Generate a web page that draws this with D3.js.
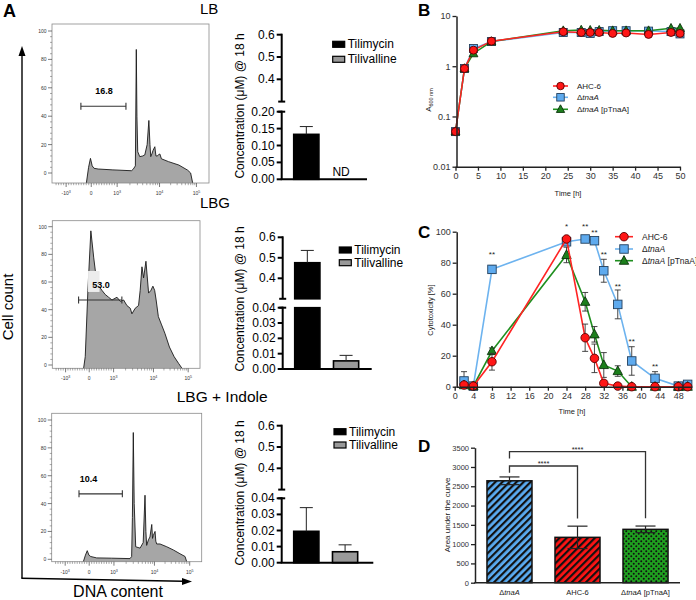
<!DOCTYPE html>
<html>
<head>
<meta charset="utf-8">
<script src="https://cdn.jsdelivr.net/npm/d3@7/dist/d3.min.js"></script>
<style>
html,body{margin:0;padding:0;background:#fff;}
svg{display:block;font-family:"Liberation Sans",Arial,Helvetica,sans-serif;}
</style>
</head>
<body>
<svg id="fig" width="696" height="600"></svg>
<script>
// ======================= DATA =======================
// Panel A – DNA content histograms (channel 0–1000, count as % of max)
const histLB_channel = [219,233,245,256,268,294,388,506,517,531,537,541,546,559,578,591,606,617,624,629,638,644,655,662,670,678,687,697,742,808,864,883,896];
const histLB_count   = [-10,4,10.3,5,3.3,2.8,2.2,1.6,2.6,5,87,40,15,11.5,12,12.7,20,37,20,11.5,14,16,18.5,12,12,12.8,13.4,10,8,5.6,2,0,-10];
const histLBG_channel = [212,223,241,261,280,302,336,358,381,404,438,460,483,505,528,539,561,584,595,607,618,634,652,668,681,693,703,718,740,762,793,825,856,878];
const histLBG_count   = [-10,6,54,97,78,59,54,51,49,47,49,46,47,43,41,37,41,43,54,71,63,75,52,54,57,54,47,35,29,23,13,6,1,-10];
const histInd_channel = [211,225,237,248,260,300,400,522,533,538,544,550,560,589,610,622,628,633,645,655,667,672,677,689,694,700,722,767,811,855,889,900];
const histInd_count   = [-10,3,6.2,3,2,1,0.8,0.5,2,30,91,40,9,8,12,46,20,10,14,16,25,15,17,20,13,11,11,9,6.7,4,2,-10];
const histTitles = ["LB","LBG","LBG + Indole"];
const histGateLabels = ["16.8","53.0","10.4"];
const histGateFrom = [184,178,182];
const histGateTo = [471,471,471];
const histGateCount = 47;
const histYTicks = [0,20,40,60,80,100];
const histXTickChannels = [90,250,415,685,920];
const histXTickBase = ["-10","0","10","10","10"];
const histXTickExp  = ["3","","3","4","5"];

// Panel A – concentrations (µM) at 18 h
const concCompounds = ["Tilimycin","Tilivalline"];
const concLB     = [0.133, null];   const concErrLB  = [0.023, null];
const concLBG    = [0.476, 0.0053]; const concErrLBG = [0.060, 0.0036];
const concInd    = [0.0195, 0.0068];const concErrInd = [0.0147, 0.0043];
const concUpperTicks = [0.4, 0.5, 0.6];
const concLowerTicksLB  = [0, 0.05, 0.10, 0.15, 0.20];
const concLowerTicksLBG = [0, 0.01, 0.02, 0.03, 0.04];

// Panel B – growth (A600nm)
const strains = ["AHC-6","ΔtnaA","ΔtnaA [pTnaA]"];
const timesB  = [0,2,4,8,24,28,30,32,35,38,43,48,50];
const odAHC   = [0.05,0.9,2.09,3.16,4.86,4.7,4.7,4.7,4.5,4.6,4.3,4.7,4.5];
const odTnaA  = [0.05,0.9,2.25,3.1,4.7,4.7,4.5,4.9,5.1,5.1,5.0,4.9,4.4];
const odComp  = [0.05,0.9,1.8,3.1,5.1,5.25,5.2,5.2,5.1,5.1,5.1,5.7,5.7];
const ticksBx = [0,5,10,15,20,25,30,35,40,45,50];
const ticksBy = [0.01,0.1,1,10];

// Panel C – cytotoxicity (%)
const timesC   = [2,4,8,24,28,30,32,35,38,43,48,50];
const cytAHC   = [1.1,0.4,16.1,95.3,31.6,18.3,2.2,0.4,0,0,0,0];
const cytErrAHC= [1,0.5,5.4,1.5,8.8,9.2,1,0.4,0,0,0,0];
const cytTnaA  = [3.7,0.4,75.7,93.5,95.3,94.2,74.8,53.1,16.6,5.4,0.4,1.5];
const cytErrTnaA=[6,0.5,2.5,2,1.5,2,7.4,9.3,9.2,4.3,0.5,1];
const cytComp  = [1,0.4,23,85,54.8,33.8,14,10.1,0,0,0,0];
const cytErrComp=[1,0.5,2,5,6,5,8,3.4,0,0,0,0];
const starTimesC  = [8,24,28,30,32,35,38,43];
const starLabelsC = ["**","*","**","**","**","**","**","**"];
const starLevelsC = [86.5,105,105,101,86.5,66.3,30.6,14.5];
const ticksCx = [0,4,8,12,16,20,24,28,32,36,40,44,48];
const ticksCy = [0,20,40,60,80,100];

// Panel D – area under the curve
const aucGroups = ["ΔtnaA","AHC-6","ΔtnaA [pTnaA]"];
const aucValues = [2642,1176,1383];
const aucErr    = [100,290,86];
const sigFrom   = [0,0];
const sigTo     = [1,2];
const sigLabels = ["****","****"];
const sigLevels = [3026,3396];
const ticksDy = [0,500,1000,1500,2000,2500,3000,3500];

// ======================= DRAWING =======================
const svg = d3.select("#fig");
const defs = svg.append("defs");

function txt(g, x, y, s, size, o = {}) {
  const t = g.append("text").attr("x", x).attr("y", y).attr("font-size", size).text(s);
  if (o.anchor) t.attr("text-anchor", o.anchor);
  if (o.weight) t.attr("font-weight", o.weight);
  t.attr("fill", o.fill || "#000");
  if (o.rotate) t.attr("transform", `rotate(${o.rotate},${x},${y})`);
  if (o.baseline) t.attr("dominant-baseline", o.baseline);
  return t;
}
function strainText(t, name) {
  if (name.startsWith("Δ")) {
    t.text(null);
    t.append("tspan").text("Δ");
    t.append("tspan").attr("font-style", "italic").text("tnaA");
    const rest = name.slice(5);
    if (rest) t.append("tspan").text(rest);
  }
  return t;
}

// ---------- Panel letters & global A labels ----------
txt(svg, 3, 17, "A", 18, {weight: "bold"});
txt(svg, 418, 15.5, "B", 17, {weight: "bold"});
txt(svg, 418, 238, "C", 17, {weight: "bold"});
txt(svg, 418, 452, "D", 17, {weight: "bold"});

// big axis arrows of panel A
svg.append("line").attr("x1", 22).attr("y1", 578).attr("x2", 22).attr("y2", 54).attr("stroke", "#000").attr("stroke-width", 1.4);
svg.append("path").attr("d", "M22,46 L18.5,56 L25.5,56 Z").attr("fill", "#000");
svg.append("line").attr("x1", 21.3).attr("y1", 578.3).attr("x2", 183).attr("y2", 581.3).attr("stroke", "#000").attr("stroke-width", 1.4);
svg.append("path").attr("d", "M192,581.5 L182,578 L182,585 Z").attr("fill", "#000");
txt(svg, 13, 307, "Cell count", 15, {anchor: "middle", rotate: -90});
txt(svg, 118, 597, "DNA content", 16, {anchor: "middle"});

// ---------- Panel A histograms ----------
const histLayouts = [
  {l: 52, r: 209, t: 24, b: 183, y0: 173, y100: 31, titleX: 200, titleY: 13.5, titleSize: 15, labX: 332, labY: 58},
  {l: 52.3, r: 200, t: 220.7, b: 368.3, y0: 365, y100: 226.7, titleX: 200, titleY: 208, titleSize: 15, labX: 330, labY: 58, labBox: true},
  {l: 51.7, r: 201.7, t: 413.3, b: 561.7, y0: 559.3, y100: 420, titleX: 176.7, titleY: 402, titleSize: 15.5, labX: 245, labY: 58}
];
const histData = [
  [histLB_channel, histLB_count],
  [histLBG_channel, histLBG_count],
  [histInd_channel, histInd_count]
];

function minorChannels() {
  const c = histXTickChannels, out = [];
  for (let i = 0; i < 2; i++) for (let k = 1; k < 10; k++) out.push(c[i] + (c[i + 1] - c[i]) * k / 10);
  for (let i = 2; i < 4; i++) for (let k = 2; k < 10; k++) out.push(c[i] + (c[i + 1] - c[i]) * Math.log10(k));
  const d = c[4] - c[3];
  for (let k = 2; k < 10; k++) { const v = c[4] + d * Math.log10(k); if (v < 990) out.push(v); }
  for (let k = 1; k < 5; k++) out.push(c[0] - (c[1] - c[0]) * k / 10);
  return out;
}

histLayouts.forEach((f, i) => {
  const g = svg.append("g");
  const x = d3.scaleLinear().domain([0, 1000]).range([f.l, f.r]);
  const y = d3.scaleLinear().domain([0, 100]).range([f.y0, f.y100]);
  const yc = v => Math.min(f.b, y(v));
  const pts = histData[i][0].map((c, j) => [c, histData[i][1][j]]);
  g.append("path").datum(pts)
    .attr("d", d3.area().x(d => x(d[0])).y0(f.b).y1(d => yc(d[1])))
    .attr("fill", "#a6a6a6");
  g.append("path").datum(pts)
    .attr("d", d3.line().x(d => x(d[0])).y(d => yc(d[1])))
    .attr("fill", "none").attr("stroke", "#1a1a1a").attr("stroke-width", 0.9);
  g.append("rect").attr("x", f.l).attr("y", f.t).attr("width", f.r - f.l).attr("height", f.b - f.t)
    .attr("fill", "none").attr("stroke", "#8a8a8a").attr("stroke-width", 0.8);
  // y ticks
  histYTicks.forEach(v => {
    g.append("line").attr("x1", f.l - 4).attr("x2", f.l).attr("y1", y(v)).attr("y2", y(v)).attr("stroke", "#444").attr("stroke-width", 0.7);
    txt(g, f.l - 5.5, y(v), String(v), 5, {anchor: "end", baseline: "central", fill: "#333"});
  });
  d3.range(0, 101, 4).forEach(v => {
    if (v % 20) g.append("line").attr("x1", f.l - 2).attr("x2", f.l).attr("y1", y(v)).attr("y2", y(v)).attr("stroke", "#555").attr("stroke-width", 0.5);
  });
  // x ticks
  histXTickChannels.forEach((c, k) => {
    g.append("line").attr("x1", x(c)).attr("x2", x(c)).attr("y1", f.b).attr("y2", f.b + 4).attr("stroke", "#444").attr("stroke-width", 0.7);
    const t = g.append("text").attr("x", x(c)).attr("y", f.b + 12).attr("font-size", 5).attr("fill", "#333").attr("text-anchor", "middle");
    t.append("tspan").text(histXTickBase[k]);
    if (histXTickExp[k]) t.append("tspan").attr("font-size", 3.6).attr("dy", -2).text(histXTickExp[k]);
  });
  minorChannels().forEach(c => {
    g.append("line").attr("x1", x(c)).attr("x2", x(c)).attr("y1", f.b).attr("y2", f.b + 2.2).attr("stroke", "#555").attr("stroke-width", 0.5);
  });
  // gate
  const gy = y(histGateCount);
  const gx1 = x(histGateFrom[i]), gx2 = x(histGateTo[i]);
  g.append("line").attr("x1", gx1).attr("x2", gx2).attr("y1", gy).attr("y2", gy).attr("stroke", "#333").attr("stroke-width", 1.1);
  [gx1, gx2].forEach(gx => g.append("line").attr("x1", gx).attr("x2", gx).attr("y1", gy - 3.5).attr("y2", gy + 3.5).attr("stroke", "#333").attr("stroke-width", 1.1));
  if (f.labBox) g.append("rect").attr("x", x(f.labX) - 13).attr("y", y(histGateCount + 21)).attr("width", 11.5).attr("height", 21).attr("fill", "#ececec");
  txt(g, x(f.labX), y(f.labY), histGateLabels[i], 9, {anchor: "middle", baseline: "central", weight: "bold"});
  // title
  txt(g, f.titleX, f.titleY, histTitles[i], f.titleSize);
});

// ---------- Panel A bar charts ----------
const barLayouts = [
  {ax: 281.7, xEnd: 367, up0: 101.6, up6: 34.7, lo0: 179.3, loTop: 111.7, loMax: 0.2, legX: 332.7, legY: [44.3, 59.3], ylabY: 106,
   vals: concLB, errs: concErrLB, loTicks: concLowerTicksLB},
  {ax: 282.7, xEnd: 371.7, up0: 298.8, up6: 237.3, lo0: 369, loTop: 307.7, loMax: 0.04, legX: 339.3, legY: [250, 262.7], ylabY: 299,
   vals: concLBG, errs: concErrLBG, loTicks: concLowerTicksLBG},
  {ax: 281.7, xEnd: 373.3, up0: 489.6, up6: 425.7, lo0: 562.7, loTop: 498.3, loMax: 0.04, legX: 334, legY: [431.7, 445], ylabY: 493,
   vals: concInd, errs: concErrInd, loTicks: concLowerTicksLBG}
];
const concFill = ["#000", "#999"];

barLayouts.forEach(L => {
  const g = svg.append("g");
  const up = d3.scaleLinear().domain([0.3, 0.6]).range([L.up0, L.up6]);
  const lo = d3.scaleLinear().domain([0, L.loMax]).range([L.lo0, L.loTop]);
  const x = d3.scaleBand().domain(concCompounds).range([L.ax, L.ax + 88]).paddingInner(0.35).paddingOuter(0.31);
  const bw = x.bandwidth();
  concCompounds.forEach((c, i) => {
    const v = L.vals[i], e = L.errs[i];
    const bx = x(c);
    if (v === null) {
      txt(g, bx + bw / 2 - 4, L.lo0 - 7.5, "ND", 12, {anchor: "middle", baseline: "central"});
      return;
    }
    const st = i === 0 ? {fill: "#000", stroke: "#000"} : {fill: "#999", stroke: "#000"};
    const drawRect = (y1, y2) => g.append("rect").attr("x", bx).attr("y", y1).attr("width", bw).attr("height", y2 - y1)
      .attr("fill", st.fill).attr("stroke", st.stroke).attr("stroke-width", 1.6);
    let topY, errY;
    if (v <= L.loMax) { drawRect(lo(v), L.lo0); topY = lo(v); errY = lo(v + e); }
    else { drawRect(L.loTop, L.lo0); drawRect(up(v), L.up0); topY = up(v); errY = up(v + e); }
    const cx = bx + bw / 2;
    g.append("line").attr("x1", cx).attr("x2", cx).attr("y1", topY).attr("y2", errY).attr("stroke", "#222").attr("stroke-width", 1);
    g.append("line").attr("x1", cx - 6.5).attr("x2", cx + 6.5).attr("y1", errY).attr("y2", errY).attr("stroke", "#222").attr("stroke-width", 1);
  });
  const ax = L.ax;
  g.append("line").attr("x1", ax).attr("x2", ax).attr("y1", L.up0).attr("y2", L.up6 - 1).attr("stroke", "#000").attr("stroke-width", 2);
  g.append("line").attr("x1", ax).attr("x2", ax).attr("y1", L.lo0).attr("y2", L.loTop - 1).attr("stroke", "#000").attr("stroke-width", 2);
  g.append("line").attr("x1", ax - 3.5).attr("x2", ax + 3.5).attr("y1", L.up0).attr("y2", L.up0).attr("stroke", "#000").attr("stroke-width", 2);
  g.append("line").attr("x1", ax - 3.5).attr("x2", ax + 3.5).attr("y1", L.loTop).attr("y2", L.loTop).attr("stroke", "#000").attr("stroke-width", 2);
  g.append("line").attr("x1", ax - 1).attr("x2", L.xEnd).attr("y1", L.lo0).attr("y2", L.lo0).attr("stroke", "#000").attr("stroke-width", 2);
  concUpperTicks.forEach(v => {
    g.append("line").attr("x1", ax - 5).attr("x2", ax).attr("y1", up(v)).attr("y2", up(v)).attr("stroke", "#000").attr("stroke-width", 2);
    txt(g, ax - 7, up(v), v.toFixed(1), 12, {anchor: "end", baseline: "central"});
  });
  L.loTicks.forEach(v => {
    g.append("line").attr("x1", ax - 5).attr("x2", ax).attr("y1", lo(v)).attr("y2", lo(v)).attr("stroke", "#000").attr("stroke-width", 2);
    txt(g, ax - 7, lo(v), v.toFixed(2), 12, {anchor: "end", baseline: "central"});
  });
  txt(g, 243.5, L.ylabY, "Concentration (μM) @ 18 h", 12, {anchor: "middle", rotate: -90});
  concCompounds.forEach((c, i) => {
    g.append("rect").attr("x", L.legX).attr("y", L.legY[i] - 3).attr("width", 12).attr("height", 6)
      .attr("fill", concFill[i]).attr("stroke", "#000").attr("stroke-width", 1.2);
    txt(g, L.legX + 15, L.legY[i], c, 12, {baseline: "central"});
  });
});

// ---------- series style ----------
const seriesStyle = {
  "AHC-6": {line: "#ff2424", fill: "#ff1616", stroke: "#5a0000", shape: "circle"},
  "ΔtnaA": {line: "#6db3ef", fill: "#5eaaee", stroke: "#24415e", shape: "square"},
  "ΔtnaA [pTnaA]": {line: "#1f8f1f", fill: "#1c7f1c", stroke: "#0b330b", shape: "triangle"}
};
function marker(g, name, x, y, s) {
  const st = seriesStyle[name];
  let m;
  if (st.shape === "circle") m = g.append("circle").attr("cx", x).attr("cy", y).attr("r", s / 2);
  else if (st.shape === "square") m = g.append("rect").attr("x", x - s / 2).attr("y", y - s / 2).attr("width", s).attr("height", s);
  else m = g.append("path").attr("d", `M${x},${y - s * 0.6} L${x + s * 0.55},${y + s * 0.42} L${x - s * 0.55},${y + s * 0.42} Z`);
  m.attr("fill", st.fill).attr("stroke", st.stroke).attr("stroke-width", 0.9);
}
function legend(g, x0, ys, size, fs, ms) {
  strains.forEach((n, i) => {
    const st = seriesStyle[n];
    g.append("line").attr("x1", x0).attr("x2", x0 + size).attr("y1", ys[i]).attr("y2", ys[i]).attr("stroke", st.line).attr("stroke-width", 1.6);
    marker(g, n, x0 + size / 2, ys[i], ms);
    strainText(txt(g, x0 + size + 9, ys[i], n, fs, {baseline: "central", fill: "#222"}), n);
  });
}

// ---------- Panel B ----------
{
  const g = svg.append("g");
  const x = d3.scaleLinear().domain([0, 50]).range([455.5, 680]);
  const y = d3.scaleLog().domain([0.01, 10]).range([166.7, 16]);
  const series = [["ΔtnaA", odTnaA], ["ΔtnaA [pTnaA]", odComp], ["AHC-6", odAHC]];
  series.forEach(([n, vals]) => {
    g.append("path").datum(vals).attr("d", d3.line().x((d, i) => x(timesB[i])).y(d => y(d)))
      .attr("fill", "none").attr("stroke", seriesStyle[n].line).attr("stroke-width", 1.5);
  });
  series.forEach(([n, vals]) => vals.forEach((v, i) => marker(g, n, x(timesB[i]), y(v), 8)));
  const xa = g.append("g").attr("transform", "translate(0,166.7)")
    .call(d3.axisBottom(x).tickValues(ticksBx).tickSize(4).tickSizeOuter(0).tickPadding(2));
  const ya = g.append("g").attr("transform", "translate(456.5,0)")
    .call(d3.axisLeft(y).tickValues(ticksBy).tickSize(4).tickSizeOuter(0).tickPadding(2).tickFormat(d => d >= 1 ? d3.format("d")(d) : String(d)));
  [xa, ya].forEach(a => {
    a.select(".domain").attr("stroke", "#222").attr("stroke-width", 1.5);
    a.selectAll(".tick line").attr("stroke", "#222").attr("stroke-width", 1.3);
    a.selectAll("text").attr("font-size", 9).attr("fill", "#333").attr("font-family", "Liberation Sans, Arial, sans-serif");
  });
  txt(g, 568, 196, "Time [h]", 7.5, {anchor: "middle", fill: "#222"});
  const yl = g.append("text").attr("transform", "translate(431,100) rotate(-90)").attr("text-anchor", "middle").attr("font-size", 8).attr("fill", "#222");
  yl.append("tspan").text("A");
  yl.append("tspan").attr("font-size", 5.5).attr("dy", 2).text("600 nm");
  legend(g, 553, [86, 97.3, 109.3], 15, 8, 7.5);
}

// ---------- Panel C ----------
{
  const g = svg.append("g");
  const x = d3.scaleLinear().domain([0, 51]).range([454.7, 692.3]);
  const y = d3.scaleLinear().domain([0, 100]).range([386.7, 231.7]);
  const series = [["ΔtnaA", cytTnaA, cytErrTnaA], ["ΔtnaA [pTnaA]", cytComp, cytErrComp], ["AHC-6", cytAHC, cytErrAHC]];
  series.forEach(([n, vals, errs]) => {
    g.append("path").datum(vals).attr("d", d3.line().x((d, i) => x(timesC[i])).y(d => y(d)))
      .attr("fill", "none").attr("stroke", seriesStyle[n].line).attr("stroke-width", 1.6);
    vals.forEach((v, i) => {
      const e = errs[i];
      if (e < 1) return;
      const cx = x(timesC[i]);
      const y1 = y(v + e), y2 = y(Math.max(0, v - e));
      g.append("line").attr("x1", cx).attr("x2", cx).attr("y1", y1).attr("y2", y2).attr("stroke", "#333").attr("stroke-width", 0.9);
      [y1, y2].forEach(yy => g.append("line").attr("x1", cx - 3).attr("x2", cx + 3).attr("y1", yy).attr("y2", yy).attr("stroke", "#333").attr("stroke-width", 0.9));
    });
    vals.forEach((v, i) => marker(g, n, x(timesC[i]), y(v), 8.5));
  });
  starTimesC.forEach((t, i) => txt(g, x(t), y(starLevelsC[i]) + 4.6, starLabelsC[i], 8, {anchor: "middle", fill: "#222"}));
  const xa = g.append("g").attr("transform", "translate(0,386.7)")
    .call(d3.axisBottom(x).tickValues(ticksCx).tickSize(4).tickSizeOuter(0).tickPadding(2));
  xa.select(".domain").attr("d", `M456.7,0.5H692.3`);
  const ya = g.append("g").attr("transform", "translate(456.7,0)")
    .call(d3.axisLeft(y).tickValues(ticksCy).tickSize(4).tickSizeOuter(0).tickPadding(2));
  [xa, ya].forEach(a => {
    a.select(".domain").attr("stroke", "#222").attr("stroke-width", 1.5);
    a.selectAll(".tick line").attr("stroke", "#222").attr("stroke-width", 1.3);
    a.selectAll("text").attr("font-size", 9).attr("fill", "#333").attr("font-family", "Liberation Sans, Arial, sans-serif");
  });
  txt(g, 572, 414, "Time [h]", 7.5, {anchor: "middle", fill: "#222"});
  txt(g, 433, 310, "Cytotoxicity [%]", 7.5, {anchor: "middle", rotate: -90, fill: "#222"});
  legend(g, 615, [236.7, 249, 260.7], 18, 8.5, 8.5);
}

// ---------- Panel D ----------
{
  const g = svg.append("g");
  const pBlue = defs.append("pattern").attr("id", "pBlue").attr("patternUnits", "userSpaceOnUse").attr("width", 5).attr("height", 5).attr("patternTransform", "rotate(45)");
  pBlue.append("rect").attr("width", 5).attr("height", 5).attr("fill", "#5aacf2");
  pBlue.append("rect").attr("width", 2.2).attr("height", 5).attr("fill", "#111");
  const pRed = defs.append("pattern").attr("id", "pRed").attr("patternUnits", "userSpaceOnUse").attr("width", 5).attr("height", 5).attr("patternTransform", "rotate(45)");
  pRed.append("rect").attr("width", 5).attr("height", 5).attr("fill", "#ff1414");
  pRed.append("rect").attr("width", 2.2).attr("height", 5).attr("fill", "#111");
  const pGreen = defs.append("pattern").attr("id", "pGreen").attr("patternUnits", "userSpaceOnUse").attr("width", 5).attr("height", 5);
  pGreen.append("rect").attr("width", 5).attr("height", 5).attr("fill", "#1fa01f");
  pGreen.append("circle").attr("cx", 1.25).attr("cy", 1.25).attr("r", 1).attr("fill", "#111");
  pGreen.append("circle").attr("cx", 3.75).attr("cy", 3.75).attr("r", 1).attr("fill", "#111");
  const fills = ["url(#pBlue)", "url(#pRed)", "url(#pGreen)"];

  const x = d3.scaleBand().domain(aucGroups).range([475, 680]).paddingInner(0.338).paddingOuter(0.176);
  const y = d3.scaleLinear().domain([0, 3500]).range([582.7, 447.7]);
  aucGroups.forEach((n, i) => {
    const bx = x(n), bw = x.bandwidth(), cx = bx + bw / 2;
    g.append("rect").attr("x", bx).attr("y", y(aucValues[i])).attr("width", bw).attr("height", y(0) - y(aucValues[i]))
      .attr("fill", fills[i]).attr("stroke", "#111").attr("stroke-width", 1.5);
    const y1 = y(aucValues[i] + aucErr[i]), y2 = y(aucValues[i] - aucErr[i]);
    g.append("line").attr("x1", cx).attr("x2", cx).attr("y1", y1).attr("y2", y2).attr("stroke", "#222").attr("stroke-width", 1.2);
    [y1, y2].forEach(yy => g.append("line").attr("x1", cx - 10).attr("x2", cx + 10).attr("y1", yy).attr("y2", yy).attr("stroke", "#222").attr("stroke-width", 1.2));
    strainText(txt(g, cx, 595, n, 7.5, {anchor: "middle", fill: "#222"}), n);
  });
  sigFrom.forEach((a, k) => {
    const b = sigTo[k];
    const xa = x(aucGroups[a]) + x.bandwidth() / 2, xb = x(aucGroups[b]) + x.bandwidth() / 2;
    const ly = y(sigLevels[k]);
    const yb = y(aucValues[b] + aucErr[b] + 200);
    g.append("path").attr("d", `M${xa},${ly + 6.7} V${ly} H${xb} V${yb}`).attr("fill", "none").attr("stroke", "#333").attr("stroke-width", 1.3);
    txt(g, (xa + xb) / 2, ly + 0.5, sigLabels[k], 7.5, {anchor: "middle", fill: "#222"});
  });
  const ya = g.append("g").attr("transform", "translate(475,0)")
    .call(d3.axisLeft(y).tickValues(ticksDy).tickSize(4).tickSizeOuter(0).tickPadding(2).tickFormat(d3.format("d")));
  ya.select(".domain").attr("stroke", "#222").attr("stroke-width", 1.5);
  ya.selectAll(".tick line").attr("stroke", "#222").attr("stroke-width", 1.3);
  ya.selectAll("text").attr("font-size", 7.5).attr("fill", "#333").attr("font-family", "Liberation Sans, Arial, sans-serif");
  g.append("line").attr("x1", 474.3).attr("x2", 680).attr("y1", 582.7).attr("y2", 582.7).attr("stroke", "#222").attr("stroke-width", 1.5);
  txt(g, 449.5, 515, "Area under the curve", 8, {anchor: "middle", rotate: -90, fill: "#222"});
}
</script>
</body>
</html>
